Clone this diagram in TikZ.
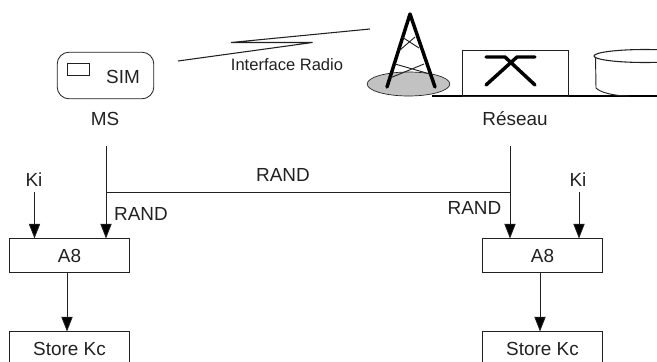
\documentclass[tikz,border=0pt]{standalone}
\usepackage{fontspec}
\setmainfont{Liberation Sans}
\usetikzlibrary{arrows.meta,shapes.geometric}
\definecolor{ink}{gray}{0.13}
\tikzset{
  lbl/.style={inner sep=0pt,text=ink,font=\fontsize{14.2}{16}\selectfont},
  small/.style={inner sep=0pt,text=ink,font=\fontsize{12.4}{14}\selectfont},
  blockbox/.style={draw=ink,line width=0.6pt,inner sep=0pt,minimum width=89.5pt,text=ink,font=\fontsize{14.2}{16}\selectfont},
  flow/.style={draw=ink,line width=0.6pt,-{Triangle[length=11pt,width=8.5pt,fill=black]}},
  wire/.style={draw=ink,line width=0.6pt},
  thick tower/.style={line width=2.6pt,black,line cap=round,line join=round},
  brace/.style={line width=0.7pt,ink},
}
\begin{document}
\begin{tikzpicture}[x=0.75pt,y=-0.75pt]
\useasboundingbox (0,0) rectangle (657,361);
\clip (0,0) rectangle (657,361);
% mobile station
\node[draw=ink,line width=0.6pt,rounded corners=9pt,minimum width=72.5pt,minimum height=35pt,inner sep=0pt] (ms) at (105.5,75.5) {};
\node[draw=ink,line width=0.6pt,minimum width=16.5pt,minimum height=9.5pt,inner sep=0pt] (chip) at (78,69.5) {};
\node[lbl] (sim) at (123,77) {SIM};
\node[lbl] (mslbl) at (105,119) {MS};
% radio link
\coordinate (z1) at (178,61);
\coordinate (z2) at (312.5,42.5);
\coordinate (z3) at (231,42.5);
\coordinate (z4) at (370,29);
\draw[wire,line width=0.8pt,line join=bevel] (z1) -- (z2) -- (z3) -- (z4);
\node[small] (radio) at (287,65) {Interface Radio};
% ground and tower
\draw[wire,line width=0.8pt,black] (432,96) -- (657,96);
\node[draw=ink,line width=0.5pt,fill=black!24,ellipse,minimum width=62pt,minimum height=18pt,inner sep=0pt] (base) at (408.5,84) {};
\draw[thick tower] (387,87) -- (410,14) -- (435,87);
\draw[brace] (402,37) -- (419,48) (415,37) -- (400,50) (395,64) -- (430,74) (424,64) -- (390,78);
% switch
\node[draw=ink,line width=0.7pt,minimum width=79.5pt,minimum height=34.5pt,inner sep=0pt] (sw) at (515,73) {};
\draw[thick tower] (486,57) -- (505,57) -- (535,85) (535,57) -- (517,57) -- (486,85);
% database
\draw[wire,line width=0.7pt] (595.5,56) -- (596,88) .. controls (600,92) and (612,96) .. (630,96);
\draw[wire,line width=0.8pt,fill=white] (645,56) ellipse [x radius=51,y radius=6.5];
\node[lbl] (net) at (515,119) {Réseau};
% left chain
\node[blockbox,minimum height=25pt] (a8l) at (69.5,255.5) {A8};
\node[blockbox,minimum height=25pt] (stl) at (69.5,348.5) {Store Kc};
\node[lbl] (kil) at (34,180) {Ki};
\node[lbl] (randl) at (141,214) {RAND};
\coordinate (msfoot) at (106,146);
\coordinate (kilfoot) at (34.5,192);
\coordinate (downl) at (67,300);
\draw[flow] (msfoot) -- (msfoot |- a8l.north);
\draw[flow] (kilfoot) -- (kilfoot |- a8l.north);
\draw[flow] (downl |- a8l.south) -- (downl |- stl.north);
% right chain
\node[blockbox,minimum height=25pt] (a8r) at (542.5,255.5) {A8};
\node[blockbox,minimum height=25pt] (str) at (542.5,348.5) {Store Kc};
\node[lbl] (kir) at (578,180) {Ki};
\node[lbl] (randr) at (474.5,208) {RAND};
\coordinate (netfoot) at (510,146);
\coordinate (kirfoot) at (579,192);
\coordinate (downr) at (540,300);
\draw[flow] (netfoot) -- (netfoot |- a8r.north);
\draw[flow] (kirfoot) -- (kirfoot |- a8r.north);
\draw[flow] (downr |- a8r.south) -- (downr |- str.north);
% shared RAND
\coordinate (busl) at (106,192.5);
\coordinate (busr) at (510,192.5);
\draw[wire] (busl) -- (busr);
\node[lbl] (randt) at (283,175) {RAND};
\end{tikzpicture}
\end{document}
